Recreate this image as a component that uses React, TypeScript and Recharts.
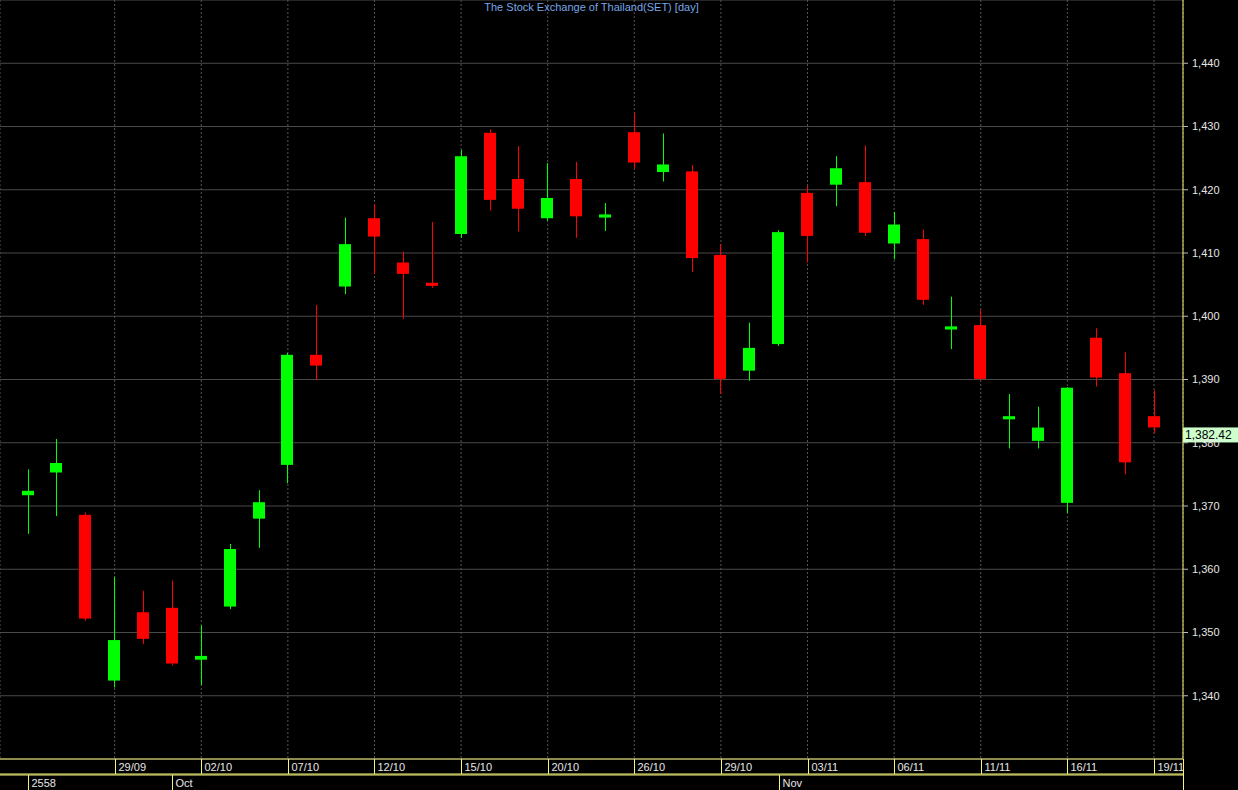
import { Bar, CartesianGrid, ComposedChart, ReferenceLine, XAxis, YAxis } from 'recharts'

const dates = [
  '24/09', '25/09', '28/09', '29/09', '30/09', '01/10', '02/10', '05/10', '06/10', '07/10',
  '08/10', '09/10', '12/10', '13/10', '14/10', '15/10', '16/10', '19/10', '20/10', '21/10',
  '22/10', '26/10', '27/10', '28/10', '29/10', '30/10', '02/11', '03/11', '04/11', '05/11',
  '06/11', '09/11', '10/11', '11/11', '12/11', '13/11', '16/11', '17/11', '18/11', '19/11',
]

const opens = [
  1371.7, 1375.3, 1368.6, 1342.4, 1353.2, 1353.9, 1345.7, 1354.1, 1368.0, 1376.5,
  1393.9, 1404.7, 1415.5, 1408.5, 1405.3, 1413.0, 1429.0, 1421.7, 1415.5, 1421.7,
  1415.6, 1429.1, 1422.8, 1422.9, 1409.7, 1391.4, 1395.6, 1419.5, 1420.8, 1421.2,
  1411.5, 1412.2, 1397.9, 1398.6, 1383.7, 1380.3, 1370.5, 1396.6, 1391.0, 1384.2,
]

const highs = [
  1375.8, 1380.6, 1369.0, 1358.8, 1356.6, 1358.2, 1351.1, 1364.0, 1372.5, 1394.2,
  1401.8, 1415.6, 1417.7, 1410.2, 1414.9, 1426.3, 1429.5, 1426.9, 1424.2, 1424.4,
  1417.9, 1432.2, 1428.9, 1423.9, 1411.4, 1399.0, 1413.6, 1420.6, 1425.3, 1427.0,
  1416.5, 1413.7, 1403.1, 1401.0, 1387.7, 1385.7, 1388.8, 1398.1, 1394.3, 1388.3,
]

const lows = [
  1365.6, 1368.4, 1351.9, 1341.3, 1348.2, 1344.8, 1341.7, 1353.7, 1363.4, 1373.6,
  1389.9, 1403.5, 1406.7, 1399.6, 1404.5, 1412.4, 1416.7, 1413.4, 1415.1, 1412.4,
  1413.5, 1423.3, 1421.3, 1407.0, 1387.7, 1389.8, 1395.3, 1408.5, 1417.4, 1412.7,
  1409.0, 1401.8, 1394.8, 1390.0, 1379.1, 1379.1, 1368.9, 1388.9, 1375.0, 1381.5,
]

const closes = [
  1372.4, 1376.8, 1352.2, 1348.8, 1349.0, 1345.1, 1346.3, 1363.2, 1370.6, 1393.9,
  1392.2, 1411.4, 1412.6, 1406.7, 1404.8, 1425.3, 1418.4, 1417.0, 1418.7, 1415.8,
  1416.1, 1424.3, 1424.0, 1409.2, 1390.1, 1395.0, 1413.3, 1412.7, 1423.4, 1413.2,
  1414.5, 1402.6, 1398.4, 1390.1, 1384.2, 1382.4, 1388.7, 1390.3, 1376.9, 1382.42,
]

const dateTicks = ['29/09', '02/10', '07/10', '12/10', '15/10', '20/10', '26/10', '29/10', '03/11', '06/11', '11/11', '16/11', '19/11']
const monthTicks = ['24/09', '01/10', '02/11']
const monthLabels: Record<string, string> = { '24/09': '2558', '01/10': 'Oct', '02/11': 'Nov' }
const priceTicks = [1340, 1350, 1360, 1370, 1380, 1390, 1400, 1410, 1420, 1430, 1440]
const lastPrice = 1382.42

const candles = dates.map((date, i) => ({
  date,
  open: opens[i],
  high: highs[i],
  low: lows[i],
  close: closes[i],
  range: [lows[i], highs[i]],
}))

const yellow = '#f4f47c'
const font = '"Liberation Sans", Arial, sans-serif'

function Candle(props: any) {
  const { x, y, width, height, payload } = props
  const { open, close, high, low } = payload
  const color = close >= open ? '#00ff00' : '#ff0000'
  const ratio = height / (high - low)
  const top = y + (high - Math.max(open, close)) * ratio
  const bodyH = Math.max(Math.abs(open - close) * ratio, 2)
  const cx = Math.round(x + width / 2) + 0.5
  return (
    <g>
      <line x1={cx} x2={cx} y1={y} y2={y + height} stroke={color} strokeWidth={1} />
      <rect x={Math.round(x)} y={top} width={width} height={bodyH} fill={color} />
    </g>
  )
}

function DateTick(props: any) {
  const { x, y, payload } = props
  const lx = Math.round(x) + 0.5
  return (
    <g>
      <line x1={lx} x2={lx} y1={y} y2={y + 15} stroke={yellow} />
      <text x={lx + 3} y={y + 12} fill="#e6e6e6" fontSize={11} fontFamily={font}>
        {payload.value}
      </text>
    </g>
  )
}

function MonthTick(props: any) {
  const { x, y, payload } = props
  const lx = Math.round(x) + 0.5
  return (
    <g>
      <line x1={lx} x2={lx} y1={y} y2={y + 15} stroke={yellow} />
      <text x={lx + 3} y={y + 12} fill="#e6e6e6" fontSize={11} fontFamily={font}>
        {monthLabels[payload.value]}
      </text>
    </g>
  )
}

function PriceLabel(props: any) {
  const { viewBox } = props
  const x = viewBox.x + viewBox.width
  return (
    <g>
      <rect x={x} y={viewBox.y} width={55} height={15} fill="#ccffcc" />
      <text x={x + 2} y={viewBox.y + 12} fill="#000" fontSize={12} fontFamily={font}>
        {lastPrice.toLocaleString('en-US')}
      </text>
    </g>
  )
}

export default function App() {
  return (
    <div style={{ position: 'absolute', left: 0, top: 0, width: 1238, height: 790, background: '#000' }}>
      <ComposedChart
        width={1238}
        height={790}
        data={candles}
        margin={{ top: 0, right: 0, bottom: 0, left: 0 }}
      >
        <CartesianGrid vertical={false} stroke="#4a4a4a" />
        <CartesianGrid horizontal={false} stroke="#555555" strokeDasharray="2 2" />
        <XAxis
          dataKey="date"
          ticks={dateTicks}
          interval={0}
          height={15}
          padding={{ left: 13.6, right: 14.6 }}
          tickLine={false}
          tickSize={0}
          tickMargin={0}
          axisLine={{ stroke: yellow }}
          tick={<DateTick />}
        />
        <XAxis
          xAxisId="month"
          dataKey="date"
          ticks={monthTicks}
          interval={0}
          height={15}
          padding={{ left: 13.6, right: 14.6 }}
          tickLine={false}
          tickSize={0}
          tickMargin={0}
          axisLine={{ stroke: yellow }}
          tick={<MonthTick />}
        />
        <XAxis
          xAxisId="bottom"
          dataKey="date"
          height={1}
          padding={{ left: 13.6, right: 14.6 }}
          tick={false}
          tickLine={false}
          axisLine={{ stroke: yellow }}
        />
        <YAxis
          orientation="right"
          width={55}
          domain={[1330, 1450]}
          ticks={priceTicks}
          allowDataOverflow
          axisLine={{ stroke: yellow }}
          tickLine={{ stroke: '#bbbbbb' }}
          tickSize={5}
          tickMargin={4}
          tick={{ fill: '#e6e6e6', fontSize: 11, fontFamily: font, textAnchor: 'start' }}
          tickFormatter={(v: number) => v.toLocaleString('en-US')}
        />
        <Bar dataKey="range" barSize={12} shape={<Candle />} isAnimationActive={false} />
        <ReferenceLine y={lastPrice} stroke="none" label={<PriceLabel />} />
      </ComposedChart>
      <div style={{ position: 'absolute', left: 1183, top: 759, width: 1, height: 31, background: yellow }} />
      <div
        style={{
          position: 'absolute',
          top: 1,
          left: 0,
          width: 1183,
          textAlign: 'center',
          color: '#79a6e6',
          fontSize: 11,
          fontFamily: font,
        }}
      >
        The Stock Exchange of Thailand(SET) [day]
      </div>
    </div>
  )
}
